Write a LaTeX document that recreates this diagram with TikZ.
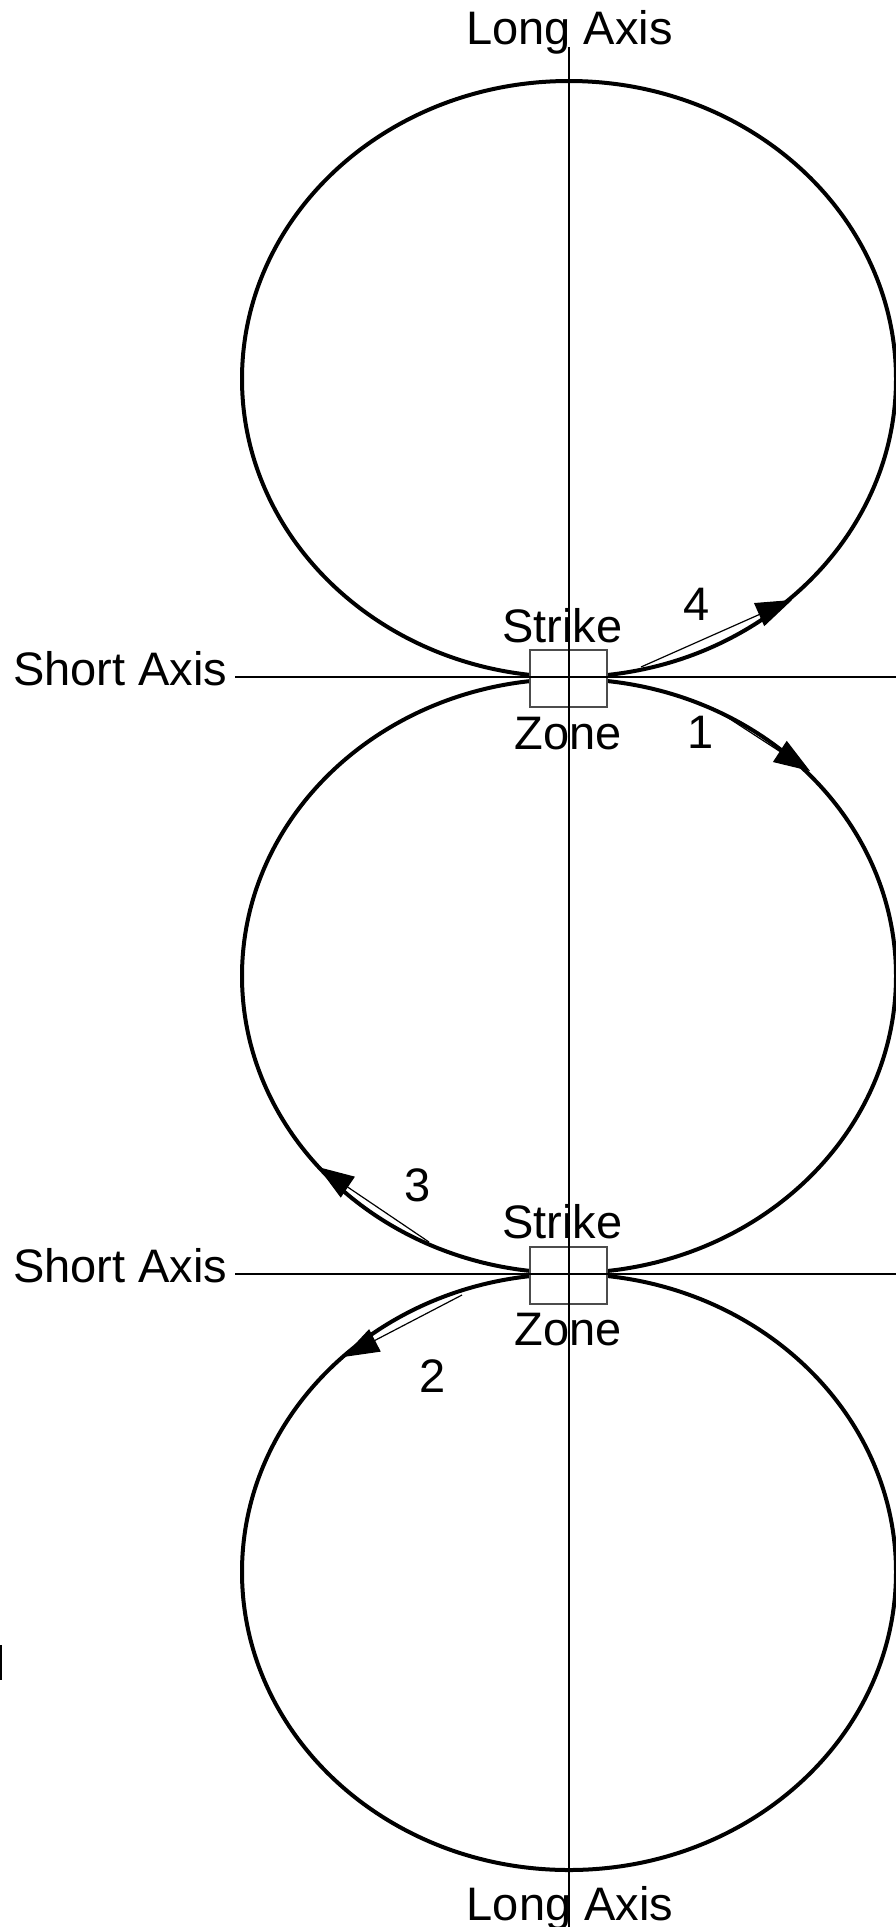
\documentclass[tikz,border=0pt]{standalone}
\usepackage{fontspec}
\setmainfont{Liberation Sans}
\usetikzlibrary{arrows.meta}
\begin{document}
\begin{tikzpicture}[x=1pt,y=-1pt,
  lbl/.style={font=\fontsize{47}{56}\selectfont, inner sep=0pt, anchor=base},
  loop/.style={line width=4pt},
  axisline/.style={line width=1.2pt},
  zone/.style={draw=black!70, fill=white, line width=1.2pt, minimum width=77pt, minimum height=57pt, inner sep=0pt},
  motion/.style={line width=1.2pt, -{Triangle[length=36pt,width=25pt]}}]
\useasboundingbox (0,0) rectangle (896,1927);
% loops
\draw[loop] (569,379) ellipse [x radius=327pt, y radius=298pt];
\draw[loop] (569,976) ellipse [x radius=327pt, y radius=297pt];
\draw[loop] (569,1572) ellipse [x radius=327pt, y radius=298pt];
% strike zones
\node[zone] (sz1) at (568.5,678.5) {};
\node[zone] (sz2) at (568.5,1275.5) {};
% axes
\coordinate (vtop) at (569,47);
\coordinate (vbot) at (569,1927);
\coordinate (h1l) at (235,677);
\coordinate (h1r) at (896,677);
\coordinate (h2l) at (235,1274);
\coordinate (h2r) at (896,1274);
\draw[axisline] (vtop) -- (vbot);
\draw[axisline] (h1l) -- (h1r);
\draw[axisline] (h2l) -- (h2r);
% labels
\node[lbl] (ltop) at (569.5,45) {Long Axis};
\node[lbl] (lbot) at (570,1920) {Long Axis};
\node[lbl, anchor=base west] (s1) at (13,685) {Short Axis};
\node[lbl, anchor=base west] (s2) at (13,1282) {Short Axis};
\node[lbl] (st1) at (562.5,642) {Strike};
\node[lbl] (zn1) at (568.5,749) {Zone};
\node[lbl] (st2) at (562.5,1238) {Strike};
\node[lbl] (zn2) at (568.5,1345) {Zone};
\node[lbl] (n4) at (697,620) {4};
\node[lbl] (n1) at (701,748) {1};
\node[lbl] (n3) at (418,1201) {3};
\node[lbl] (n2) at (433,1392) {2};
% motion arrows
\coordinate (a4s) at (641,667);
\coordinate (a4e) at (792,600);
\coordinate (a1s) at (713,708);
\coordinate (a1e) at (810,771);
\coordinate (a3s) at (429,1242);
\coordinate (a3e) at (318,1167);
\coordinate (a2s) at (462,1295);
\coordinate (a2e) at (343,1357);
\draw[motion] (a4s) -- (a4e);
\draw[motion] (a1s) -- (a1e);
\draw[motion] (a3s) -- (a3e);
\draw[motion] (a2s) -- (a2e);
% cut-off fragment at left edge
\fill (0,1645) rectangle (2,1680);
\end{tikzpicture}
\end{document}
